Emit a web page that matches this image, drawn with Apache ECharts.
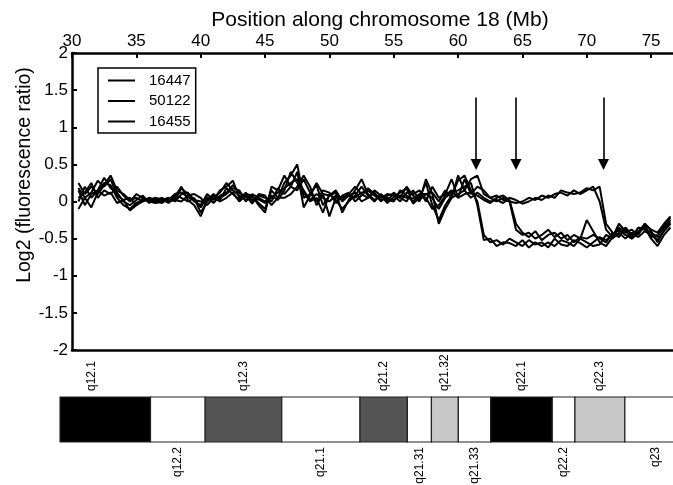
<!DOCTYPE html>
<html><head><meta charset="utf-8">
<script src="https://cdn.jsdelivr.net/npm/echarts@6/dist/echarts.min.js"></script>
<style>html,body{margin:0;padding:0;background:#fff}#c{width:673px;height:485px}</style>
</head><body><div id="c"></div>
<script>
const FONT = '"Liberation Sans", Arial, Helvetica, sans-serif';

// sample positions along chromosome 18 (Mb)
const positions = [
  30.5,31,31.5,32,32.5,33,33.5,34,34.5,35,
  35.5,36,36.5,37,37.5,38,38.5,39,39.5,40,
  40.5,41,41.5,42,42.5,43,43.5,44,44.5,45,
  45.5,46,46.5,47,47.5,48,48.5,49,49.5,50,
  50.5,51,51.5,52,52.5,53,53.5,54,54.5,55,
  55.5,56,56.5,57,57.5,58,58.5,59,59.5,60,
  60.5,61,61.5,62,62.5,63,63.5,64,64.5,65,
  65.5,66,66.5,67,67.5,68,68.5,69,69.5,70,
  70.5,71,71.5,72,72.5,73,73.5,74,74.5,75,
  75.5,76,76.5
];

// log2 ratios, two hybridisations per patient
const p16447a = [
  0.18,0.05,0.12,0.28,0.2,0.3,0.08,0.02,-0.12,-0.05,
  0.04,0.02,0.0,0.03,-0.02,0.06,0.2,0.02,-0.05,-0.2,
  0.02,0.05,0.12,0.25,0.15,0.08,0.02,0.06,-0.02,-0.1,
  0.15,0.05,0.25,0.35,0.5,0.05,0.1,0.22,-0.05,0.08,
  0.12,-0.15,0.02,0.15,0.3,0.1,0.02,0.08,-0.02,0.06,
  0.12,0.18,-0.03,0.05,0.25,-0.05,-0.25,-0.05,0.08,0.28,
  0.35,0.15,0.0,-0.45,-0.55,-0.52,-0.58,-0.5,-0.55,-0.6,
  -0.52,-0.58,-0.55,-0.62,-0.5,-0.58,-0.6,-0.52,-0.56,-0.62,
  -0.55,-0.48,-0.52,-0.45,-0.38,-0.45,-0.5,-0.42,-0.35,-0.5,
  -0.6,-0.45,-0.35
];
const p16447b = [
  0.0,0.2,0.05,0.15,0.32,0.18,0.12,0.0,-0.05,0.02,
  0.08,-0.02,0.04,0.0,0.02,0.1,0.12,0.06,0.02,-0.08,
  0.06,-0.02,0.08,0.12,0.22,0.12,0.06,0.02,0.03,-0.02,
  0.05,0.12,0.18,0.25,0.3,0.15,0.02,0.1,0.05,0.0,
  0.08,0.02,0.08,0.05,0.12,0.15,0.08,0.02,0.05,0.02,
  0.08,0.05,0.04,0.1,0.1,0.05,-0.1,0.05,0.12,0.15,
  0.2,0.25,-0.05,-0.52,-0.5,-0.6,-0.55,-0.56,-0.6,-0.52,
  -0.62,-0.55,-0.6,-0.55,-0.6,-0.52,-0.55,-0.6,-0.5,-0.55,
  -0.6,-0.58,-0.45,-0.5,-0.42,-0.5,-0.42,-0.48,-0.4,-0.45,
  -0.52,-0.4,-0.3
];
const p50122a = [
  0.25,0.1,0.2,0.1,0.22,0.35,0.15,0.1,0.02,0.05,
  0.0,0.05,0.02,0.05,0.0,0.02,0.18,0.1,0.0,-0.05,
  0.1,0.02,0.15,0.2,0.28,0.05,0.1,0.08,-0.05,-0.15,
  0.2,0.15,0.35,0.2,0.4,-0.08,0.08,0.25,0.1,-0.2,
  0.05,0.05,0.1,0.2,0.1,0.05,0.12,0.0,0.08,0.1,
  0.05,0.2,0.08,0.0,0.3,0.1,-0.3,-0.1,0.05,0.1,
  0.15,0.3,0.35,0.1,0.05,0.08,0.02,0.0,-0.38,-0.45,
  -0.42,-0.5,-0.45,-0.38,-0.48,-0.42,-0.52,-0.45,-0.5,-0.25,
  -0.4,-0.55,-0.6,-0.48,-0.35,-0.42,-0.38,-0.45,-0.3,-0.4,
  -0.55,-0.38,-0.28
];
const p50122b = [
  -0.1,0.05,-0.08,0.12,0.25,0.22,0.05,-0.05,-0.1,-0.02,
  0.02,0.0,-0.02,0.0,0.03,0.08,0.05,0.0,0.05,-0.15,
  0.0,0.08,0.05,0.1,0.18,0.15,0.0,0.1,0.05,0.0,
  0.08,0.02,0.15,0.4,0.25,0.12,0.0,0.05,-0.15,0.1,
  0.02,-0.1,0.0,0.08,0.2,0.08,0.0,0.1,0.02,0.0,
  0.15,0.08,0.0,0.08,0.05,-0.1,-0.05,0.08,0.15,0.05,
  0.1,0.12,0.08,0.02,-0.02,0.05,0.08,0.02,-0.3,-0.42,
  -0.48,-0.4,-0.52,-0.45,-0.42,-0.5,-0.45,-0.55,-0.48,-0.5,
  -0.45,-0.5,-0.55,-0.42,-0.48,-0.35,-0.45,-0.4,-0.32,-0.48,
  -0.45,-0.35,-0.25
];
const p16455a = [
  0.05,0.12,0.25,0.05,0.15,0.1,0.2,0.08,0.0,0.1,
  0.05,0.02,0.05,0.02,0.05,0.0,0.1,0.12,0.02,0.0,
  0.02,0.1,0.02,0.18,0.1,0.02,0.12,0.0,0.08,0.05,
  0.0,0.18,0.1,0.2,0.15,0.3,0.12,0.0,0.15,0.12,
  -0.02,0.08,0.12,0.0,0.08,0.18,0.1,0.05,0.1,0.08,
  0.0,0.12,0.1,0.15,0.0,0.2,0.05,0.1,0.3,0.05,
  0.3,0.1,0.2,0.15,0.05,0.0,0.05,0.0,-0.02,0.0,
  0.05,0.02,0.08,0.05,0.1,0.12,0.08,0.15,0.1,0.15,
  0.2,0.0,-0.38,-0.48,-0.3,-0.4,-0.48,-0.35,-0.38,-0.42,
  -0.48,-0.32,-0.22
];
const p16455b = [
  0.15,-0.05,0.1,0.15,0.08,0.12,-0.02,0.02,0.05,-0.05,
  0.0,0.05,0.0,-0.02,0.04,0.02,0.0,0.08,0.1,0.05,
  -0.05,0.05,0.0,0.05,0.12,0.0,0.08,-0.03,0.1,0.08,
  -0.05,0.05,0.05,0.1,0.2,0.35,0.2,-0.05,0.1,0.08,
  0.15,0.0,0.08,0.12,0.0,0.05,0.15,0.08,0.0,0.12,
  0.05,0.0,0.15,0.02,0.1,0.12,0.0,0.15,0.05,0.35,
  0.15,0.05,0.12,0.05,0.0,0.02,-0.02,0.05,0.02,-0.03,
  0.0,0.05,0.02,0.08,0.05,0.15,0.12,0.1,0.12,0.18,
  0.15,0.2,-0.3,-0.42,-0.45,-0.38,-0.5,-0.42,-0.3,-0.38,
  -0.42,-0.3,-0.2
];

const legendNames = ['16447', '50122', '16455'];
const xTicks = [30, 35, 40, 45, 50, 55, 60, 65, 70, 75];

// breakpoint arrows (Mb) and their vertical extent (log2 ratio)
const arrowX = [61.4, 64.5, 71.3];
const arrowFrom = 1.4;
const arrowTo = 0.5;

// ideogram bands of 18q
const bandNames = ['q12.1','q12.2','q12.3','q21.1','q21.2','q21.31','q21.32','q21.33','q22.1','q22.2','q22.3','q23'];
const bandStart = [27.0, 36.1, 40.35, 46.3, 52.38, 56.06, 57.93, 60.02, 62.53, 67.32, 69.08, 72.96];
const bandEnd   = [36.1, 40.35, 46.3, 52.38, 56.06, 57.93, 60.02, 62.53, 67.32, 69.08, 72.96, 77.8];
const bandStain = ['gpos100','gneg','gpos75','gneg','gpos75','gneg','gpos25','gneg','gpos100','gneg','gpos25','gneg'];
const ideogramFrom = 29.07;
const stainColor = { gpos100: '#000000', gpos75: '#555555', gpos25: '#c8c8c8', gneg: '#ffffff' };

const X_MIN = 30, X_MAX = 76.7;

const chart = echarts.init(document.getElementById('c'), null, { renderer: 'canvas' });

const profiles = [
  [legendNames[0], p16447a], [legendNames[0], p16447b],
  [legendNames[1], p50122a], [legendNames[1], p50122b],
  [legendNames[2], p16455a], [legendNames[2], p16455b]
];

const lineSeries = profiles.map(([name, vals]) => ({
  type: 'line',
  name: name,
  xAxisIndex: 0, yAxisIndex: 0,
  data: positions.map((x, i) => [x, vals[i]]),
  symbol: 'none',
  lineStyle: { color: '#000', width: 2 },
  itemStyle: { color: '#000' },
  emphasis: { disabled: true },
  silent: true,
  animation: false
}));

const arrowSeries = {
  type: 'line',
  name: 'arrows',
  xAxisIndex: 0, yAxisIndex: 0,
  data: [],
  silent: true,
  animation: false,
  markLine: {
    silent: true,
    animation: false,
    symbol: ['none', 'triangle'],
    symbolSize: 11,
    label: { show: false },
    lineStyle: { color: '#000', width: 1.6, type: 'solid' },
    itemStyle: { color: '#000' },
    emphasis: { disabled: true },
    data: arrowX.map(x => [
      { coord: [x, arrowFrom] },
      { coord: [x, arrowTo] }
    ])
  }
};

const bandData = bandNames.map((n, i) => [bandStart[i], bandEnd[i], i]);

const ideogramSeries = {
  type: 'custom',
  xAxisIndex: 2, yAxisIndex: 1,
  data: bandData,
  clip: false,
  silent: true,
  animation: false,
  renderItem: function (params, api) {
    const i = api.value(2);
    const s = Math.max(api.value(0), ideogramFrom);
    const e = api.value(1);
    const p0 = api.coord([s, 1]);
    const p1 = api.coord([e, 0]);
    const midX = api.coord([(api.value(0) + api.value(1)) / 2, 0])[0];
    const above = i % 2 === 0;
    return {
      type: 'group',
      children: [
        {
          type: 'rect',
          shape: { x: p0[0], y: p0[1], width: p1[0] - p0[0], height: p1[1] - p0[1] },
          style: { fill: stainColor[bandStain[i]], stroke: '#222', lineWidth: 1.2 }
        },
        {
          type: 'text',
          x: midX,
          y: above ? p0[1] - 6 : p1[1] + 5,
          rotation: Math.PI / 2,
          style: {
            text: bandNames[i],
            font: '12px ' + FONT,
            fill: '#000',
            align: above ? 'left' : 'right',
            verticalAlign: 'middle'
          }
        }
      ]
    };
  }
};

const option = {
  backgroundColor: '#fff',
  animation: false,
  textStyle: { fontFamily: FONT, color: '#000' },
  title: {
    text: 'Position along chromosome 18 (Mb)',
    left: 375,
    textAlign: 'center',
    top: 5,
    textStyle: { fontFamily: FONT, fontSize: 21, fontWeight: 'normal', color: '#000' }
  },
  legend: {
    data: legendNames,
    orient: 'vertical',
    left: 98, top: 68,
    padding: [5, 5, 4, 9],
    itemWidth: 27, itemHeight: 14, itemGap: 5.5,
    borderColor: '#000', borderWidth: 1.5,
    backgroundColor: '#fff',
    selectedMode: false,
    itemStyle: { opacity: 0, borderWidth: 0 },
    lineStyle: { color: '#000', width: 2, opacity: 1 },
    textStyle: { fontFamily: FONT, fontSize: 15, color: '#000', padding: [0, 0, 0, 9] }
  },
  grid: [
    { left: 72, top: 53, right: 0, bottom: 135, containLabel: false },
    { left: 72, top: 397, right: 0, height: 45, containLabel: false }
  ],
  xAxis: [
    {
      type: 'value', gridIndex: 0, position: 'top',
      min: X_MIN, max: X_MAX, interval: 5,
      axisLine: { show: true, onZero: false, lineStyle: { color: '#000', width: 2.5 } },
      axisTick: { show: true, inside: true, length: 5, lineStyle: { color: '#000', width: 2 } },
      axisLabel: {
        show: true, margin: 3, fontSize: 17, color: '#000', fontFamily: FONT,
        showMaxLabel: false,
        formatter: v => (xTicks.indexOf(v) >= 0 ? String(v) : '')
      },
      splitLine: { show: false }
    },
    {
      type: 'value', gridIndex: 0, position: 'bottom',
      min: X_MIN, max: X_MAX,
      axisLine: { show: true, onZero: false, lineStyle: { color: '#000', width: 2.5 } },
      axisTick: { show: false }, axisLabel: { show: false }, splitLine: { show: false }
    },
    {
      type: 'value', gridIndex: 1,
      min: X_MIN, max: X_MAX, show: false
    }
  ],
  yAxis: [
    {
      type: 'value', gridIndex: 0,
      min: -2, max: 2, interval: 0.5,
      axisLine: { show: true, onZero: false, lineStyle: { color: '#000', width: 2.5 } },
      axisTick: { show: true, inside: true, length: 5, lineStyle: { color: '#000', width: 2 } },
      axisLabel: { show: true, margin: 4, fontSize: 17, color: '#000', fontFamily: FONT },
      splitLine: { show: false }
    },
    { type: 'value', gridIndex: 1, min: 0, max: 1, show: false }
  ],
  graphic: [
    {
      type: 'text',
      x: 25, y: 175,
      rotation: Math.PI / 2,
      style: {
        text: 'Log2 (fluorescence ratio)',
        font: '19.5px ' + FONT,
        fill: '#000',
        align: 'center',
        verticalAlign: 'middle'
      }
    }
  ],
  series: lineSeries.concat([arrowSeries, ideogramSeries])
};

chart.setOption(option);
</script>
</body></html>
